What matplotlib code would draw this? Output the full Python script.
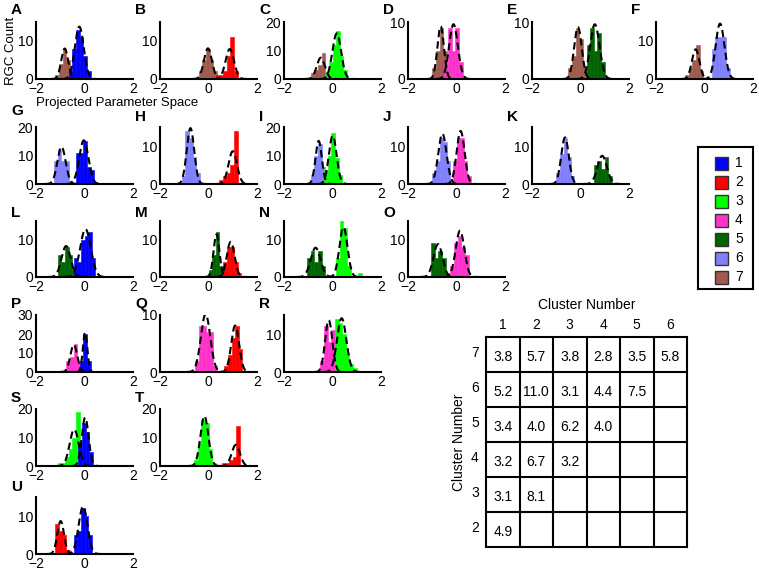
import numpy as np
import matplotlib
matplotlib.use('Agg')
import matplotlib.pyplot as plt
from matplotlib.patches import Rectangle

plt.rcParams['font.family'] = ['Liberation Sans', 'DejaVu Sans']

W, H = 759, 573

# cluster colours 1..7
colors = {1: '#0000ff', 2: '#ff0000', 3: '#00ff00', 4: '#ff33cc',
          5: '#006400', 6: '#8080ff', 7: '#a05a4e'}
BW = 0.15  # histogram bin width

# histograms per panel: (cluster, first bin edge, counts)
hist_A = [(7, -1.2, [1, 4, 8, 5, 1]), (1, -0.65, [2, 8, 13, 11, 6, 2])]
hist_B = [(7, -0.4, [2, 5, 8, 5, 2]), (2, 0.3, [1, 1, 2, 6, 11, 2])]
hist_C = [(7, -0.9, [2, 3, 5, 9, 2]), (3, -0.3, [2, 6, 12, 17, 8, 3])]
hist_D = [(7, -1.0, [2, 5, 9, 5]), (4, -0.5, [3, 9, 5, 9, 3])]
hist_E = [(7, -0.5, [2, 4, 9, 7, 2]), (5, 0.25, [6, 9, 5, 8, 3])]
hist_F = [(7, -0.8, [1, 3, 5, 9, 2]), (6, 0.3, [8, 11, 11, 11, 3])]
hist_G = [(6, -1.25, [8, 12, 8, 8, 1]), (1, -0.35, [11, 11, 15, 6, 5])]
hist_H = [(6, -1.1, [2, 14, 12, 7, 3]), (2, 0.45, [1, 2, 3, 5, 14])]
hist_I = [(6, -0.9, [3, 10, 14, 6]), (3, -0.35, [5, 10, 18, 9, 3])]
hist_J = [(6, -1.0, [3, 6, 12, 11, 6]), (4, -0.15, [6, 12, 12, 6, 2])]
hist_K = [(6, -1.0, [3, 8, 12, 7, 2]), (5, 0.55, [5, 6, 4, 7, 2])]
hist_L = [(5, -1.1, [6, 4, 8, 6, 2]), (1, -0.45, [5, 4, 10, 11, 12, 5])]
hist_M = [(5, 0.0, [2, 6, 12, 3]), (2, 0.6, [4, 8, 8, 4, 1])]
hist_N = [(5, -1.05, [5, 7, 4, 7, 3]), (3, 0.15, [5, 15, 13, 3, 0, 0, 1])]
hist_O = [(5, -1.05, [9, 5, 7, 5, 1]), (4, -0.25, [3, 9, 11, 8, 6])]
hist_P = [(4, -0.75, [6, 8, 15, 5]), (1, -0.2, [6, 20, 6])]
hist_Q = [(4, -0.55, [2, 8, 8, 7, 7, 1]), (2, 0.65, [1, 3, 6, 8, 4])]
hist_R = [(4, -0.5, [3, 12, 8, 11]), (3, 0.1, [14, 13, 10, 5, 2, 1])]
hist_S = [(3, -1.1, [1, 1, 3, 6, 10, 19]), (1, -0.25, [8, 15, 12, 5])]
hist_T = [(3, -0.6, [2, 8, 16, 15, 6, 1]), (2, 0.55, [1, 1, 2, 3, 14])]
hist_U = [(2, -1.2, [8, 6, 5, 1]), (1, -0.45, [5, 6, 12, 10, 5])]

hists = {'A': hist_A, 'B': hist_B, 'C': hist_C, 'D': hist_D, 'E': hist_E, 'F': hist_F,
         'G': hist_G, 'H': hist_H, 'I': hist_I, 'J': hist_J, 'K': hist_K,
         'L': hist_L, 'M': hist_M, 'N': hist_N, 'O': hist_O,
         'P': hist_P, 'Q': hist_Q, 'R': hist_R, 'S': hist_S, 'T': hist_T, 'U': hist_U}

ymax = {'A': 15, 'B': 15, 'C': 20, 'D': 10, 'E': 10, 'F': 15,
        'G': 20, 'H': 15, 'I': 20, 'J': 15, 'K': 15,
        'L': 15, 'M': 15, 'N': 15, 'O': 15,
        'P': 30, 'Q': 10, 'R': 15, 'S': 20, 'T': 20, 'U': 15}

panel_rows = ['ABCDEF', 'GHIJK', 'LMNO', 'PQR', 'ST', 'U']

# separation table, rows = cluster 7..2, columns = cluster 1..6
table_rows = [7, 6, 5, 4, 3, 2]
table_cols = [1, 2, 3, 4, 5, 6]
table_vals = [['3.8', '5.7', '3.8', '2.8', '3.5', '5.8'],
              ['5.2', '11.0', '3.1', '4.4', '7.5'],
              ['3.4', '4.0', '6.2', '4.0'],
              ['3.2', '6.7', '3.2'],
              ['3.1', '8.1'],
              ['4.9']]

legend_labels = ['1', '2', '3', '4', '5', '6', '7']

# layout in pixels
col_left = [36, 160, 284, 408, 532, 656]
ax_w = 97
row_tb = [(22, 79), (127, 184), (221, 277), (315, 372), (409, 466), (497, 554)]
letter_y = [10, 117, 213, 304, 398, 487]

fig = plt.figure(figsize=(W / 100, H / 100), dpi=100)


def px_axes(x0, y0, x1, y1):
    return fig.add_axes([x0 / W, 1 - y1 / H, (x1 - x0) / W, (y1 - y0) / H])


for r, letters in enumerate(panel_rows):
    top, bot = row_tb[r]
    for c, L in enumerate(letters):
        left = col_left[c]
        ax = px_axes(left, top, left + ax_w, bot)
        fits = []
        for cl, start, counts in hists[L]:
            counts = np.array(counts, dtype=float)
            centers = start + BW * (np.arange(len(counts)) + 0.5)
            ax.bar(centers, counts, width=BW, color=colors[cl],
                   edgecolor=colors[cl], linewidth=0.4)
            fits.append((centers, counts))
        # gaussian fit (moments) of each histogram
        for centers, counts in fits:
            n = counts.sum()
            mu = np.sum(counts * centers) / n
            sd = np.sqrt(np.sum(counts * (centers - mu) ** 2) / n)
            amp = n * BW / (sd * np.sqrt(2 * np.pi))
            xx = np.linspace(mu - 4 * sd, mu + 4 * sd, 200)
            ax.plot(xx, amp * np.exp(-0.5 * ((xx - mu) / sd) ** 2), color='k',
                    lw=1.5, ls=(0, (3.5, 2)))
        ax.set_xlim(-2, 2)
        ax.set_ylim(0, ymax[L])
        ax.set_xticks([-2, 0, 2])
        ax.set_xticklabels(['\u22122', '0', '2'])
        ax.set_yticks(np.arange(0, ymax[L] + 1, 10))
        ax.tick_params(length=0, labelsize=10, pad=2)
        for s in ['top', 'right']:
            ax.spines[s].set_visible(False)
        for s in ['left', 'bottom']:
            ax.spines[s].set_linewidth(1.5)
        ly = letter_y[r] - (6 if L == 'G' else 0)
        fig.text((left - 25) / W, 1 - ly / H, L, fontsize=11,
                 fontweight='bold', va='center', ha='left')
        if L == 'A':
            fig.text(11 / W, 1 - 51 / H, 'RGC Count', rotation=90, fontsize=9.5,
                     ha='center', va='center')
            fig.text(117 / W, 1 - 103 / H, 'Projected Parameter Space', fontsize=9.5,
                     ha='center', va='center')

# legend box
lg = px_axes(698, 147, 753, 289)
lg.set_xlim(0, 55)
lg.set_ylim(142, 0)
lg.set_xticks([])
lg.set_yticks([])
for s in lg.spines.values():
    s.set_linewidth(1.5)
for i, lab in enumerate(legend_labels):
    yc = 16 + i * 19
    lg.add_patch(Rectangle((17, yc - 6.5), 13, 13, facecolor=colors[i + 1],
                           edgecolor='#333333', lw=1))
    lg.text(37, yc, lab, fontsize=10, va='center', ha='left')

# table
tb = px_axes(486, 337, 687, 547)
tb.set_xlim(0, 6)
tb.set_ylim(6, 0)
tb.set_xticks([])
tb.set_yticks([])
for s in tb.spines.values():
    s.set_linewidth(1.5)
for k in range(1, 6):
    tb.axvline(k, color='k', lw=1.5)
    tb.axhline(k, color='k', lw=1.5)
for i, row in enumerate(table_vals):
    for j, v in enumerate(row):
        tb.text(j + 0.5, i + 0.58, v, fontsize=10, ha='center', va='center')
for j, cl in enumerate(table_cols):
    tb.text(j + 0.5, -0.35, str(cl), fontsize=10, ha='center', va='center', clip_on=False)
for i, rl in enumerate(table_rows):
    tb.text(-0.33, i + 0.45, str(rl), fontsize=10, ha='center', va='center', clip_on=False)
fig.text(587 / W, 1 - 305 / H, 'Cluster Number', fontsize=10, ha='center', va='center')
fig.text(459 / W, 1 - 442 / H, 'Cluster Number', fontsize=10, ha='center', va='center',
         rotation=90)

fig.savefig('out.png', dpi=100)
